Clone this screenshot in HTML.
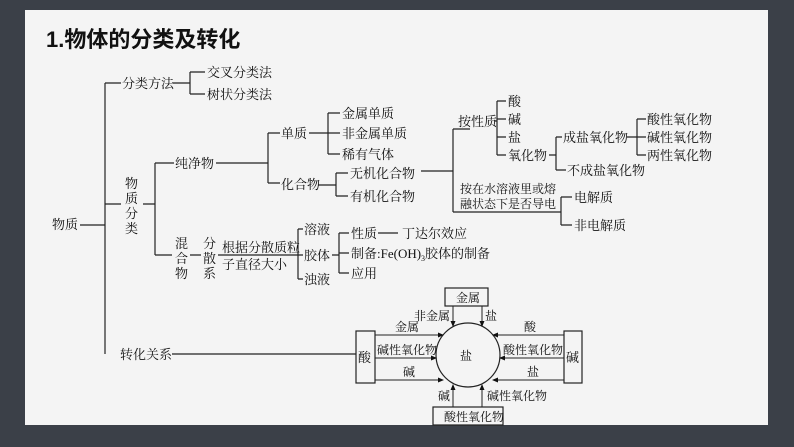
<!DOCTYPE html>
<html><head><meta charset="utf-8"><style>
html,body{margin:0;padding:0;background:#3b4048;}
svg{display:block}
text{font-family:"Liberation Serif","Noto Serif CJK SC",serif;font-size:13px;fill:#111;}
.s{font-size:12px}
</style></head><body>
<svg width="794" height="447" viewBox="0 0 794 447" xmlns="http://www.w3.org/2000/svg">
<defs><marker id="a" markerWidth="6" markerHeight="6" refX="5" refY="3" orient="auto" markerUnits="userSpaceOnUse"><path d="M0,0.5 L6,3 L0,5.5z" fill="#111"/></marker></defs>
<rect x="0" y="0" width="794" height="447" fill="#3b4048"/>
<rect x="25" y="10" width="743" height="415" fill="#f4f4f4"/>
<text x="46" y="47" style="font-family:'Liberation Sans','Noto Sans CJK SC',sans-serif;font-size:22px;font-weight:bold">1.物体的分类及转化</text>
<g stroke="#222" stroke-width="1.2" fill="none">
<path d="M80,225H105 M105,83V354 M105,83H121 M173,83H190 M190,72V94 M190,72H205 M190,94H205"/>
<path d="M105,204H121 M143,204H155 M155,163V255 M155,163H174 M155,255H172 M216,163H268 M268,133V183 M268,133H280 M268,183H280"/>
<path d="M309,133H328 M328,113V154 M328,113H340 M328,133H340 M328,154H340 M318,185H336 M336,173V196 M336,173H348 M336,196H348"/>
<path d="M421,171H453 M453,129V212 M453,129H470 M453,212H561 M561,197V225 M561,197H572 M561,225H572"/>
<path d="M495,121H497 M497,101V155 M497,101H506 M497,119H506 M497,137H506 M497,155H506 M549,155H556 M556,137V170 M556,137H562 M556,170H566 M627,137H637 M637,119V155 M637,119H646 M637,137H646 M637,155H646"/>
<path d="M190,255H201 M218,255H298 M298,229V279 M298,229H303 M298,255H303 M298,279H303 M332,255H339 M339,233V273 M339,233H349 M339,253H349 M339,273H349 M378,233H398"/>
<path d="M172,354H356"/>
<rect x="356" y="331" width="19" height="52"/>
<rect x="564" y="331" width="18" height="52"/>
<rect x="445" y="288" width="43" height="18"/>
<rect x="433" y="407" width="70" height="18"/>
<circle cx="468" cy="355" r="32"/>
</g>
<g stroke="#222" stroke-width="1" marker-end="url(#a)">
<line x1="453" y1="306" x2="453" y2="326"/>
<line x1="482" y1="306" x2="482" y2="326"/>
<line x1="375" y1="335" x2="443" y2="335"/>
<line x1="375" y1="358" x2="436" y2="358"/>
<line x1="375" y1="380" x2="443" y2="380"/>
<line x1="564" y1="335" x2="493" y2="335"/>
<line x1="564" y1="358" x2="500" y2="358"/>
<line x1="564" y1="380" x2="493" y2="380"/>
<line x1="453" y1="407" x2="453" y2="385"/>
<line x1="482" y1="407" x2="482" y2="385"/>
</g>
<text x="52" y="229">物质</text>
<text x="122" y="88">分类方法</text>
<text x="207" y="77">交叉分类法</text>
<text x="207" y="99">树状分类法</text>
<text x="125" y="188">物</text><text x="125" y="203">质</text><text x="125" y="218">分</text><text x="125" y="233">类</text>
<text x="175" y="168">纯净物</text>
<text x="281" y="138">单质</text>
<text x="281" y="189">化合物</text>
<text x="342" y="118">金属单质</text>
<text x="342" y="138">非金属单质</text>
<text x="342" y="159">稀有气体</text>
<text x="350" y="178">无机化合物</text>
<text x="350" y="201">有机化合物</text>
<text x="458" y="126">按性质</text>
<text x="508" y="106">酸</text><text x="508" y="124">碱</text><text x="508" y="142">盐</text><text x="508" y="160">氧化物</text>
<text x="563" y="142">成盐氧化物</text>
<text x="567" y="175">不成盐氧化物</text>
<text x="647" y="124">酸性氧化物</text>
<text x="647" y="142">碱性氧化物</text>
<text x="647" y="160">两性氧化物</text>
<text x="460" y="193" class="s">按在水溶液里或熔</text>
<text x="460" y="208" class="s">融状态下是否导电</text>
<text x="574" y="202">电解质</text>
<text x="574" y="230">非电解质</text>
<text x="175" y="248">混</text><text x="175" y="263">合</text><text x="175" y="278">物</text>
<text x="203" y="248">分</text><text x="203" y="263">散</text><text x="203" y="278">系</text>
<text x="222" y="252">根据分散质粒</text>
<text x="222" y="269">子直径大小</text>
<text x="304" y="234">溶液</text><text x="304" y="260">胶体</text><text x="304" y="284">浊液</text>
<text x="351" y="238">性质</text><text x="402" y="238">丁达尔效应</text>
<text x="351" y="258">制备:Fe(OH)<tspan font-size="8" dy="3">3</tspan><tspan dy="-3">胶体的制备</tspan></text>
<text x="351" y="278">应用</text>
<text x="120" y="359">转化关系</text>
<text x="358" y="362">酸</text>
<text x="566" y="362">碱</text>
<text x="456" y="302" class="s">金属</text>
<text x="444" y="421" class="s">酸性氧化物</text>
<text x="460" y="360" class="s">盐</text>
<text x="414" y="320" class="s">非金属</text>
<text x="485" y="320" class="s">盐</text>
<text x="395" y="331" class="s">金属</text>
<text x="377" y="354" class="s">碱性氧化物</text>
<text x="403" y="376" class="s">碱</text>
<text x="524" y="331" class="s">酸</text>
<text x="503" y="354" class="s">酸性氧化物</text>
<text x="527" y="376" class="s">盐</text>
<text x="438" y="400" class="s">碱</text>
<text x="487" y="400" class="s">碱性氧化物</text>
</svg>
</body></html>
